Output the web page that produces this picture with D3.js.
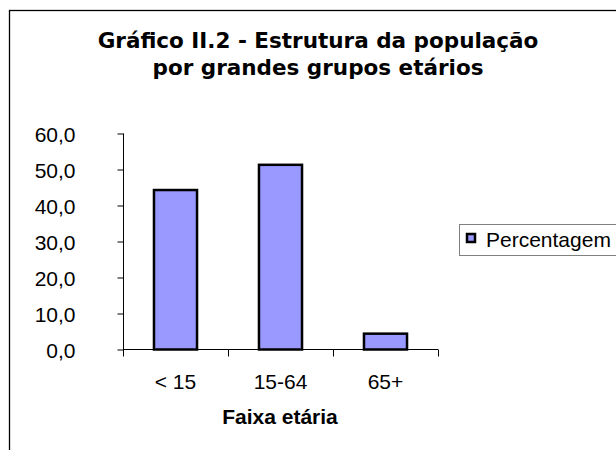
<!DOCTYPE html>
<html>
<head>
<meta charset="utf-8">
<title>Estrutura da população</title>
<style>
  body { margin: 0; background: #fff; }
  svg { display: block; }
  .tick text { font-family: Arial, "Liberation Sans", sans-serif; font-size: 21px; fill: #000; }
</style>
</head>
<body>
<svg width="616" height="450"></svg>
<script src="https://cdn.jsdelivr.net/npm/d3@7"></script>
<script>

// data
var groups = ["< 15", "15-64", "65+"];
var percent = [44.3, 51.3, 4.4];
var yTicks = [0, 10, 20, 30, 40, 50, 60];
var seriesName = "Percentagem";

var svg = d3.select("svg");

// chart frame (runs off the right and bottom edge)
svg.append("rect")
    .attr("x", 9.5).attr("y", 10.5)
    .attr("width", 700).attr("height", 500)
    .attr("fill", "none")
    .attr("stroke", "#000")
    .attr("stroke-width", 1.3);

// title
var title = svg.append("text")
    .attr("text-anchor", "middle")
    .attr("font-family", "DejaVu Sans, Verdana, sans-serif")
    .attr("font-weight", "bold")
    .attr("font-size", 21.5);
title.append("tspan").attr("x", 318).attr("y", 48).text("Gráfico II.2 - Estrutura da população");
title.append("tspan").attr("x", 318).attr("y", 75).text("por grandes grupos etários");

var x = d3.scaleBand()
    .domain(groups)
    .range([123, 438])
    .paddingInner(0.59)
    .paddingOuter(0.295);

var y = d3.scaleLinear()
    .domain([0, 60])
    .range([349.5, 133.5]);

// bars
svg.append("g")
  .selectAll("rect")
  .data(groups)
  .enter().append("rect")
    .attr("x", function(d) { return x(d); })
    .attr("y", function(d, i) { return y(percent[i]); })
    .attr("width", x.bandwidth())
    .attr("height", function(d, i) { return y(0) - y(percent[i]); })
    .attr("fill", "#9999ff")
    .attr("stroke", "#000")
    .attr("stroke-width", 2.5);

// y axis
var yAxis = svg.append("g")
    .attr("transform", "translate(123.5,0)")
    .call(d3.axisLeft(y)
      .tickValues(yTicks)
      .tickSize(6)
      .tickPadding(42)
      .tickFormat(function(d) { return d3.format(".1f")(d).replace(".", ","); }));
yAxis.select(".domain").attr("d", "M0,133.5V356.5");
yAxis.selectAll(".tick text").attr("dy", "0.36em");

// x axis, ticks sit between the categories
var xAxis = svg.append("g")
    .attr("transform", "translate(0,349.5)");
xAxis.append("path")
    .attr("d", "M" + x.range()[0] + ",0H" + x.range()[1])
    .attr("stroke", "#000");
xAxis.selectAll("line")
  .data(groups)
  .enter().append("line")
    .attr("x1", function(d) { return Math.round(x(d) + x.bandwidth() / 2 + x.step() / 2) + 0.5; })
    .attr("x2", function(d) { return Math.round(x(d) + x.bandwidth() / 2 + x.step() / 2) + 0.5; })
    .attr("y1", 0).attr("y2", 7)
    .attr("stroke", "#000");
xAxis.selectAll("text")
  .data(groups)
  .enter().append("text")
    .attr("x", function(d) { return x(d) + x.bandwidth() / 2; })
    .attr("y", 39)
    .attr("text-anchor", "middle")
    .attr("font-family", "Arial, Liberation Sans, sans-serif")
    .attr("font-size", 21)
    .text(function(d) { return d; });

// axis title
svg.append("text")
    .attr("x", 280).attr("y", 424)
    .attr("text-anchor", "middle")
    .attr("font-family", "Arial, Liberation Sans, sans-serif")
    .attr("font-weight", "bold")
    .attr("font-size", 21)
    .text("Faixa etária");

// legend
var legend = svg.append("g");
legend.append("rect")
    .attr("x", 459.5).attr("y", 224.5)
    .attr("width", 200).attr("height", 31)
    .attr("fill", "#fff")
    .attr("stroke", "#808080");
legend.append("rect")
    .attr("x", 467).attr("y", 234)
    .attr("width", 8).attr("height", 8)
    .attr("fill", "#9999ff")
    .attr("stroke", "#000")
    .attr("stroke-width", 2.5);
legend.append("text")
    .attr("x", 486).attr("y", 247)
    .attr("font-family", "Arial, Liberation Sans, sans-serif")
    .attr("font-size", 21)
    .text(seriesName);

</script>
</body>
</html>
